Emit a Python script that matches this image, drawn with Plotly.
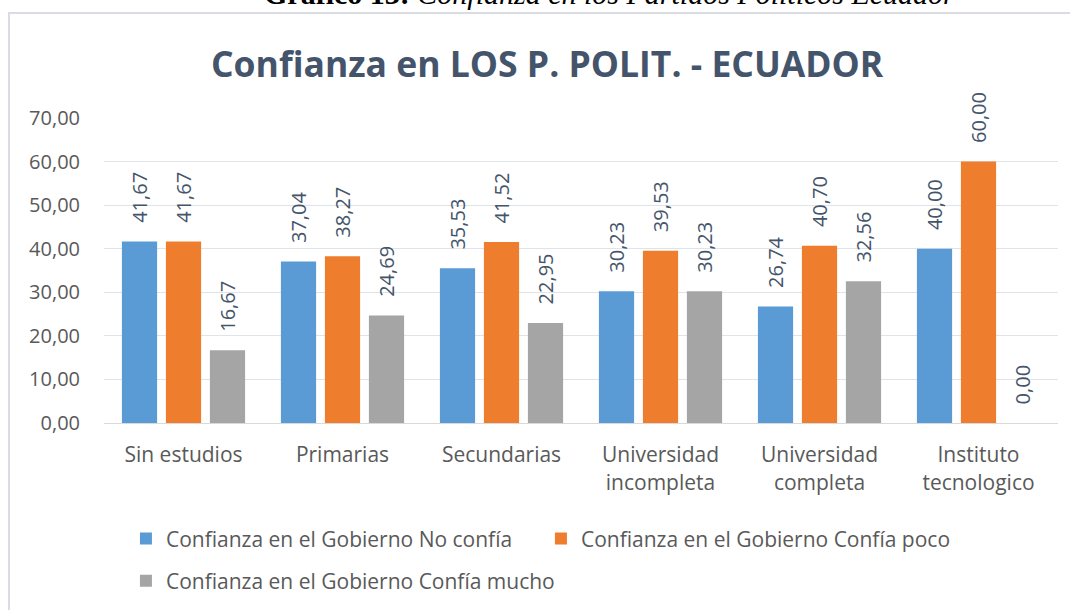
import plotly.graph_objects as go

categories = ["Sin estudios", "Primarias", "Secundarias", "Universidad<br>incompleta",
              "Universidad<br>completa", "Instituto<br>tecnologico"]
no_confia = [41.67, 37.04, 35.53, 30.23, 26.74, 40.00]
confia_poco = [41.67, 38.27, 41.52, 39.53, 40.70, 60.00]
confia_mucho = [16.67, 24.69, 22.95, 30.23, 32.56, 0.00]
series_names = ["Confianza en el Gobierno No confía",
                "Confianza en el Gobierno Confía poco",
                "Confianza en el Gobierno Confía mucho"]
colors = ["#5b9bd5", "#ef7d2e", "#a5a5a5"]
legend_ids = ["legend", "legend", "legend2"]
y_ticks = [0, 10, 20, 30, 40, 50, 60, 70]

label_font = dict(family="Open Sans", size=20, color="#44546a")
NB = "\u00a0"

fig = go.Figure()
for name, vals, col, lg in zip(series_names, [no_confia, confia_poco, confia_mucho], colors, legend_ids):
    fig.add_trace(go.Bar(
        x=categories, y=vals, name=name, legend=lg,
        marker=dict(color=col, line=dict(width=0)),
        texttemplate=NB * 3 + "%{y:.2f}", textposition="outside", textangle=-90,
        textfont=label_font, cliponaxis=False, constraintext="none",
    ))

legend_font = dict(family="Open Sans", size=21, color="#595959")
fig.update_layout(
    width=1070, height=610,
    paper_bgcolor="white", plot_bgcolor="white",
    separators=",.",
    barmode="group", bargap=0.17, bargroupgap=0.2,
    margin=dict(l=104, r=12, t=118, b=187, autoexpand=False),
    showlegend=True,
    legend=dict(orientation="h", x=0.023, y=-0.380, xanchor="left", yanchor="middle",
                entrywidth=370, entrywidthmode="pixels", font=legend_font),
    legend2=dict(orientation="h", x=0.023, y=-0.518, xanchor="left", yanchor="middle",
                 font=legend_font),
    annotations=[
        dict(text="Confianza en LOS P. POLIT. - ECUADOR", xref="paper", yref="paper",
             x=0.465, y=1.18, xanchor="center", yanchor="middle", showarrow=False,
             font=dict(family="Open Sans", size=35.5, color="#44546a", weight="bold")),
        dict(text="<b>Gráfico 13:</b> <i>Confianza en los Partidos Políticos Ecuador</i>",
             xref="paper", yref="paper", x=0.53, y=1.407, xanchor="center", yanchor="middle",
             showarrow=False,
             font=dict(family="Liberation Serif", size=30, color="#000000")),
    ],
    shapes=[
        dict(type="rect", xref="paper", yref="paper", x0=-0.0996, x1=1.2, y0=-0.8, y1=1.344,
             line=dict(color="#d9dde3", width=2), fillcolor="rgba(0,0,0,0)", layer="below"),
    ],
)
fig.update_xaxes(showgrid=False, showline=True, linecolor="#d9d9d9", linewidth=1,
                 tickfont=dict(family="Open Sans", size=21, color="#595959"),
                 ticks="", ticklabelstandoff=13, automargin=False, fixedrange=True)
fig.update_yaxes(range=[0, 70], tickvals=y_ticks, tickformat=".2f",
                 showgrid=True, gridcolor="#dfe3ea", gridwidth=1, zeroline=False,
                 tickfont=dict(family="Open Sans", size=20, color="#595959"),
                 ticks="", ticklabelstandoff=23, automargin=False)

fig.write_html("out.html", config={"displayModeBar": False},
               post_script="document.body.style.margin='0px';")
